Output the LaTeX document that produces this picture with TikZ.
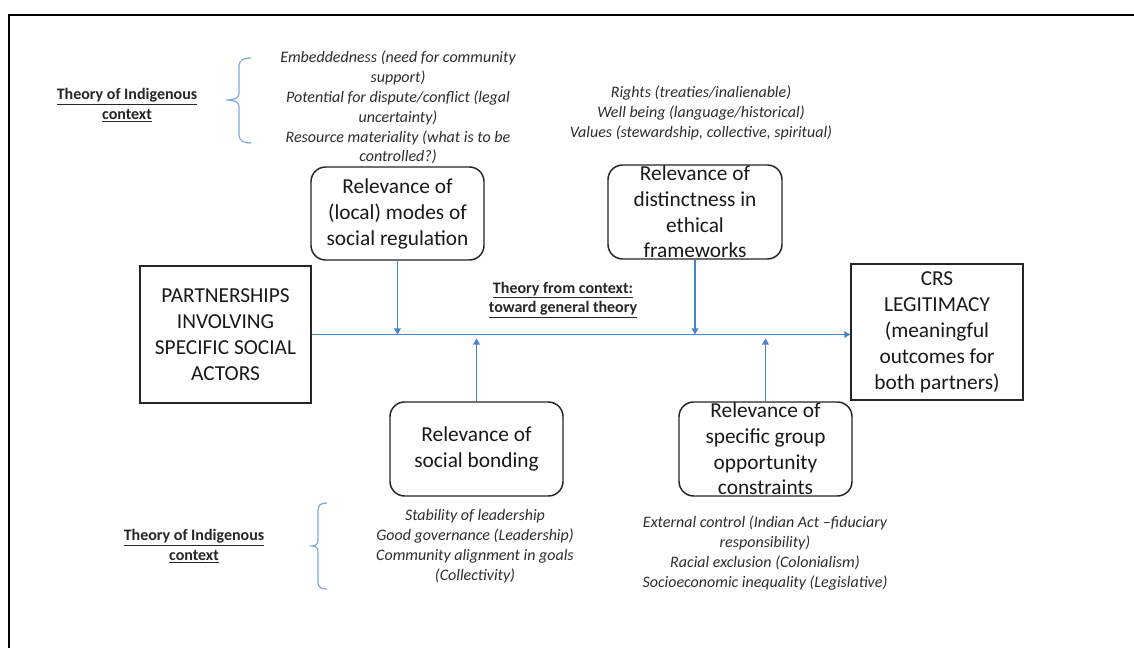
\documentclass[tikz,border=0pt]{standalone}
\usepackage{fontspec}
\setmainfont{Carlito}
\usetikzlibrary{arrows.meta}
\definecolor{arrblue}{RGB}{72,130,208}
\definecolor{braceblue}{RGB}{125,168,222}
\definecolor{itgrey}{RGB}{45,45,45}
\tikzset{
  sqbox/.style={draw=black!85, line width=1.1pt, inner sep=0pt, align=center,
    font=\fontsize{16}{19.5}\selectfont, text=black!90},
  rbox/.style={draw=black!85, line width=1.1pt, rounded corners=11pt, inner sep=0pt,
    align=center, font=\fontsize{16}{19.5}\selectfont, text=black!90},
  boxtext/.style={align=center, inner sep=0pt, font=\fontsize{16}{19.2}\selectfont, text=black!90},
  itnote/.style={align=center, inner sep=0pt, font=\fontsize{12}{14.9}\selectfont\itshape, text=itgrey},
  blabel/.style={align=center, inner sep=0pt, font=\fontsize{12}{14.8}\selectfont\bfseries, text=black!85},
  arr/.style={draw=arrblue, line width=0.8pt, -{Triangle[length=4.5pt,width=5pt]}},
  bracestyle/.style={draw=braceblue, line width=0.9pt},
  frame/.style={draw=black, line width=1.6pt}
}
\begin{document}
\begin{tikzpicture}[x=0.75pt,y=-0.75pt]
\useasboundingbox (0,0) rectangle (1134,648);
\fill[white] (0,0) rectangle (1134,648);
% outer frame (top and left edges visible)
\draw[frame] (9,648) -- (9,15) -- (1134,15);

% main boxes
\node[sqbox, minimum width=128.25pt, minimum height=102.75pt] (src) at (225.5,334.5)
  {PARTNERSHIPS\\INVOLVING\\SPECIFIC SOCIAL\\ACTORS};
\node[sqbox, minimum width=129pt, minimum height=102pt] (crs) at (937,332)
  {CRS\\LEGITIMACY\\(meaningful\\outcomes for\\both partners)};

\node[rbox, minimum width=129.75pt, minimum height=69.75pt] (b1) at (397.5,213.5)
  {Relevance of\\(local) modes of\\social regulation};
\node[rbox, minimum width=130.5pt, minimum height=70.5pt] (b2) at (695,212) {};
\node[boxtext] (b2t) at (b2.center) {Relevance of\\distinctness in\\ethical\\frameworks};
\node[rbox, minimum width=129.75pt, minimum height=70.5pt] (b3) at (476.5,449)
  {Relevance of\\social bonding};
\node[rbox, minimum width=129.75pt, minimum height=70.5pt] (b4) at (765.5,449) {};
\node[boxtext] (b4t) at (b4.center) {Relevance of\\specific group\\opportunity\\constraints};

% connectors
\coordinate (j3) at (476.5,338.5);
\coordinate (j4) at (765.5,338.5);
\draw[arr] (src.east) -- (src.east -| crs.west);
\draw[arr] (b1.south) -- (b1.south |- src.east);
\draw[arr] (b2.south) -- (b2.south |- src.east);
\draw[arr] (b3.north) -- (j3);
\draw[arr] (b4.north) -- (j4);

% middle label
\node[blabel] (mid) at (563,300) {\underline{Theory from context:}\\\underline{toward general theory}};

% top-left label and brace
\node[blabel] (lab1) at (127,105) {\underline{Theory of Indigenous}\\\underline{context}};
\draw[bracestyle] (251,58) .. controls (244,58) and (239,60) .. (239,66) -- (239,93)
  .. controls (239,98) and (235,100) .. (226,100)
  .. controls (235,100) and (239,102) .. (239,107) -- (239,135)
  .. controls (239,141) and (244,143) .. (251,143);
\node[itnote] (t1) at (398,107.5) {Embeddedness (need for community\\support)\\Potential for dispute/conflict (legal\\uncertainty)\\Resource materiality (what is to be\\controlled?)};

% top-right note
\node[itnote] (t2) at (701,113) {Rights (treaties/inalienable)\\Well being (language/historical)\\Values (stewardship, collective, spiritual)};

% bottom-left label and brace
\node[blabel] (lab2) at (194,546.5) {\underline{Theory of Indigenous}\\\underline{context}};
\draw[bracestyle] (327,503) .. controls (321,503) and (318,505) .. (318,510) -- (318,540)
  .. controls (318,544) and (316,546) .. (312,546)
  .. controls (316,546) and (318,548) .. (318,552) -- (318,582)
  .. controls (318,587) and (321,589) .. (327,589);
\node[itnote] (t3) at (475,546) {Stability of leadership\\Good governance (Leadership)\\Community alignment in goals\\(Collectivity)};

% bottom-right note
\node[itnote] (t4) at (765,553) {External control (Indian Act –fiduciary\\responsibility)\\Racial exclusion (Colonialism)\\Socioeconomic inequality (Legislative)};
\end{tikzpicture}
\end{document}
